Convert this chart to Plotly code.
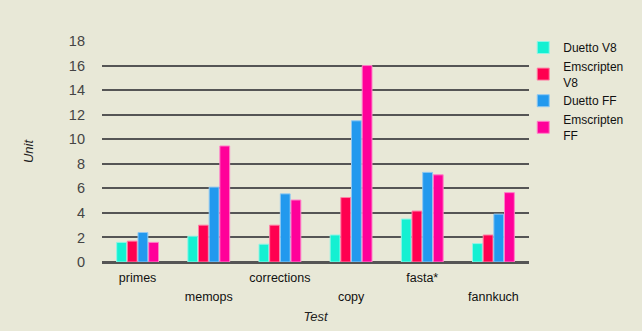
import plotly.graph_objects as go

categories = ["primes", "memops", "corrections", "copy", "fasta*", "fannkuch"]
top_row_labels = ["primes", "", "corrections", "", "fasta*", ""]
bottom_row_labels = ["", "memops", "", "copy", "", "fannkuch"]
series_names = ["Duetto V8", "Emscripten<br>V8", "Duetto FF", "Emscripten<br>FF"]
duetto_v8 = [1.6, 2.1, 1.45, 2.2, 3.5, 1.5]
emscripten_v8 = [1.7, 3.0, 3.0, 5.25, 4.15, 2.2]
duetto_ff = [2.4, 6.1, 5.55, 11.5, 7.3, 3.9]
emscripten_ff = [1.6, 9.45, 5.05, 16.0, 7.1, 5.65]
y_ticks = [0, 2, 4, 6, 8, 10, 12, 14, 16, 18]

colors = ["#14F0D2", "#FF0050", "#2299EE", "#FF0099"]
outlines = ["#8ff5e6", "#ff80a6", "#8fc8f2", "#ff80c8"]
values = [duetto_v8, emscripten_v8, duetto_ff, emscripten_ff]

bg = "#E8E8D7"
font_family = "Liberation Sans, Arial, sans-serif"
fig = go.Figure()
for name, vals, c, oc in zip(series_names, values, colors, outlines):
    fig.add_trace(go.Bar(x=categories, y=vals, name=name,
                         marker=dict(color=c, line=dict(color=oc, width=1))))

# invisible helper trace so the second (staggered-label) x axis is drawn
fig.add_trace(go.Scatter(x=categories, y=[0] * len(categories), xaxis="x2",
                         mode="markers", marker=dict(opacity=0),
                         showlegend=False, hoverinfo="skip"))

fig.update_layout(
    width=642, height=331,
    margin=dict(l=102, r=113, t=41, b=69, autoexpand=False),
    paper_bgcolor=bg, plot_bgcolor=bg,
    barmode="group", bargap=0.40, bargroupgap=0.08,
    font=dict(family=font_family, size=12, color="#222"),
    legend=dict(xref="container", yref="container", x=0.815, y=1 - 33 / 331,
                xanchor="left", yanchor="top",
                font=dict(size=12, color="#111"), bgcolor="rgba(0,0,0,0)",
                tracegroupgap=3, itemwidth=30),
    xaxis=dict(tickmode="array", tickvals=categories, ticktext=top_row_labels,
               showgrid=False, ticks="", showline=False, ticklabelstandoff=6,
               tickfont=dict(size=12.5, color="#111")),
    xaxis2=dict(overlaying="x", side="bottom", anchor="y", type="category",
                categoryorder="array", categoryarray=categories,
                range=[-0.5, 5.5], tickmode="array", tickvals=categories,
                ticktext=bottom_row_labels, showgrid=False, zeroline=False,
                ticks="", showline=False, ticklabelstandoff=25,
                tickfont=dict(size=12.5, color="#111"),
                title=dict(text="<i>Test</i>", font=dict(size=13, color="#222"), standoff=9)),
    yaxis=dict(range=[0, 18], tickvals=y_ticks, showgrid=True,
               gridcolor="#555555", gridwidth=2,
               zeroline=True, zerolinecolor="#555555", zerolinewidth=2.5,
               ticks="", ticklabelstandoff=16,
               tickfont=dict(size=14.5, color="#444"),
               title=dict(text="<i>Unit</i>", font=dict(size=13, color="#222"), standoff=32)),
)

fig.write_html("out.html")
